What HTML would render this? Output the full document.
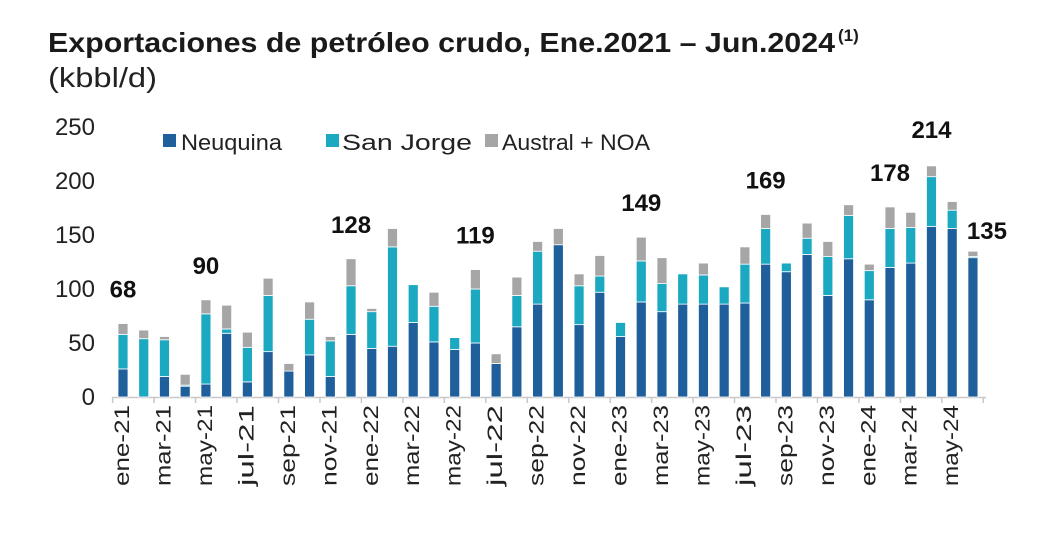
<!DOCTYPE html>
<html><head><meta charset="utf-8">
<style>
html,body{margin:0;padding:0;background:#fff;}
body{width:1043px;height:528px;overflow:hidden;font-family:"Liberation Sans",sans-serif;}
svg text{font-family:"Liberation Sans",sans-serif;}
</style></head>
<body>
<svg id="chart" width="1043" height="528" viewBox="0 0 1043 528">
<text x="48" y="52" font-size="28" font-weight="bold" fill="#1a1a1a" textLength="787" lengthAdjust="spacingAndGlyphs">Exportaciones de petróleo crudo, Ene.2021 – Jun.2024</text>
<text x="838" y="41" font-size="17" font-weight="bold" fill="#1a1a1a">(1)</text>
<text x="48" y="87" font-size="28" fill="#222" textLength="109" lengthAdjust="spacingAndGlyphs">(kbbl/d)</text>
<g>
<rect x="163" y="134" width="13" height="13" fill="#1f5f9c"/>
<text x="181" y="150" font-size="22" fill="#222" textLength="101" lengthAdjust="spacingAndGlyphs">Neuquina</text>
<rect x="326" y="134" width="13" height="13" fill="#1ba9c2"/>
<text x="342" y="150" font-size="22" fill="#222" textLength="130" lengthAdjust="spacingAndGlyphs">San Jorge</text>
<rect x="485" y="134" width="13" height="13" fill="#a6a6a6"/>
<text x="502" y="150" font-size="22" fill="#222" textLength="148" lengthAdjust="spacingAndGlyphs">Austral + NOA</text>
</g>
<g id="plot"></g>
</svg>
<script>
const neuquina=[26,0,19,10,12,59,14,42,24,39,19,58,45,47,69,51,44,50,31,65,86,141,67,97,56,88,79,86,86,86,87,123,116,132,94,128,90,120,124,158,156,129];
const sanJorge=[32,54,34,1,65,4,32,52,0,33,33,45,34,92,35,33,11,50,0,29,49,0,36,15,13,38,26,28,27,16,36,33,8,15,36,40,27,36,33,46,17,1];
const austral=[10,8,3,10,13,22,14,16,7,16,4,25,3,17,0,13,0,18,9,17,9,15,11,19,0,22,24,0,11,0,16,13,0,14,14,10,6,20,14,10,8,5];
const totalLabels=[[0,"68"],[4,"90"],[11,"128"],[17,"119"],[25,"149"],[31,"169"],[37,"178"],[39,"214"],[41,"135"]];
const monthLabels=["ene-21","mar-21","may-21","jul-21","sep-21","nov-21","ene-22","mar-22","may-22","jul-22","sep-22","nov-22","ene-23","mar-23","may-23","jul-23","sep-23","nov-23","ene-24","mar-24","may-24"];
const yTicks=[0,50,100,150,200,250];

const NS="http://www.w3.org/2000/svg";
const g=document.getElementById('plot');
const y0=397, pxPerUnit=1.08, x0=123, step=20.73, bw=10;
const yS=v=>y0-v*pxPerUnit;
const xS=i=>x0+i*step;
function mk(tag,attrs){const e=document.createElementNS(NS,tag);for(const k in attrs)e.setAttribute(k,attrs[k]);g.appendChild(e);return e;}

yTicks.forEach(t=>{
  const e=mk('text',{x:95,y:yS(t)+8,'font-size':24,fill:'#222','text-anchor':'end'});
  
  
  e.textContent=t;
});
const ax=mk('line',{x1:112,x2:986,y1:y0+0.5,y2:y0+0.5,stroke:'#c8c8c8','stroke-width':1.5});


for(let i=0;i<=neuquina.length;i+=2){
  const tx=xS(i)-step/2;
  const tk=mk('line',{x1:tx,x2:tx,y1:y0,y2:y0+6,stroke:'#c8c8c8','stroke-width':1.5});
  
  
}
const series=[[neuquina,'#1f5f9c','neuquina'],[sanJorge,'#1ba9c2','san-jorge'],[austral,'#a6a6a6','austral-noa']];
neuquina.forEach((_,i)=>{
  let base=0;
  series.forEach(([arr,col,nm])=>{
    const v=arr[i]; if(v<=0)return;
    const r=mk('rect',{x:xS(i)-bw/2,y:yS(base+v),width:bw,height:v*pxPerUnit,fill:col,stroke:'#fff','stroke-width':0.8});
    
    
    base+=v;
  });
});
totalLabels.forEach(([i,txt])=>{
  const tot=neuquina[i]+sanJorge[i]+austral[i];
  let x=xS(i), y=yS(tot)-26;
  if(i===41){x=xS(i)+14;y=yS(tot)-12;}
  if(i===39){y=yS(tot)-28;}
  const e=mk('text',{x:x,y:y,'font-size':24,'font-weight':'bold',fill:'#111','text-anchor':'middle'});
  
  
  e.textContent=txt;
});
monthLabels.forEach((m,k)=>{
  const x=xS(k*2)+6, y=405;
  const e=mk('text',{x:x,y:y,'font-size':21,fill:'#222','text-anchor':'end',textLength:m.length*13.5,lengthAdjust:'spacingAndGlyphs',transform:`rotate(-90 ${x} ${y})`});
  
  
  e.textContent=m;
});
</script>
</body></html>
